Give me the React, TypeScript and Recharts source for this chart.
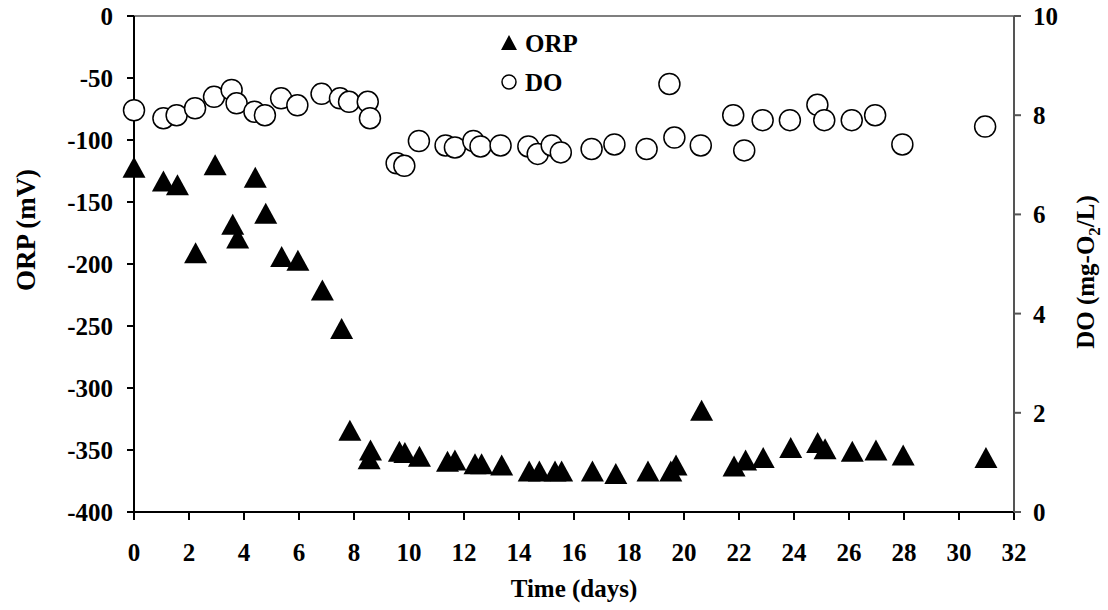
import { ScatterChart, Scatter, XAxis, YAxis, ReferenceLine } from 'recharts';

const FONT = '"Liberation Serif", "Times New Roman", serif';

const xTicks = [0, 2, 4, 6, 8, 10, 12, 14, 16, 18, 20, 22, 24, 26, 28, 30, 32];
const orpTicks = [0, -50, -100, -150, -200, -250, -300, -350, -400];
const doTicks = [0, 2, 4, 6, 8, 10];

const orpDays = [0, 1.07, 1.58, 2.24, 2.95, 3.59, 3.77, 4.41, 4.79, 5.37, 5.96, 6.85, 7.55, 7.85, 8.6, 8.55, 9.65, 9.85, 10.38, 11.4, 11.67, 12.4, 12.64, 13.37, 14.37, 14.74, 15.31, 15.55, 16.67, 17.52, 18.69, 19.52, 19.71, 20.64, 21.82, 22.24, 22.88, 23.88, 24.86, 25.13, 26.12, 26.98, 27.97, 30.98];
const orpValues = [-122, -133, -136, -191, -120, -168, -179, -130, -159, -194, -197, -221, -252, -334, -350, -357, -351, -352, -355, -359, -358, -361, -361, -362, -367, -367, -367, -367, -367, -369, -367, -367, -362, -318, -363, -358, -356, -348, -344, -349, -351, -350, -354, -356];

const doDays = [0, 1.07, 1.55, 2.22, 2.91, 3.55, 3.73, 4.38, 4.76, 5.35, 5.94, 6.82, 7.49, 7.82, 8.5, 8.58, 9.55, 9.83, 10.36, 11.33, 11.67, 12.34, 12.6, 13.33, 14.34, 14.68, 15.19, 15.52, 16.64, 17.47, 18.64, 19.47, 19.65, 20.61, 21.79, 22.19, 22.86, 23.85, 24.85, 25.1, 26.1, 26.95, 27.94, 30.95];
const doValues = [8.1, 7.94, 8.0, 8.14, 8.37, 8.51, 8.24, 8.07, 8.0, 8.34, 8.2, 8.43, 8.34, 8.27, 8.27, 7.94, 7.03, 6.98, 7.48, 7.39, 7.35, 7.48, 7.37, 7.39, 7.37, 7.22, 7.39, 7.25, 7.32, 7.41, 7.32, 8.63, 7.55, 7.39, 8.0, 7.29, 7.9, 7.9, 8.21, 7.9, 7.9, 8.0, 7.41, 7.77];

const orpData = orpDays.map((d, i) => ({ day: d, orp: orpValues[i] }));
const doData = doDays.map((d, i) => ({ day: d, dov: doValues[i] }));

const bold = { fontFamily: FONT, fontWeight: 700 };

// tick renderer: bold serif text; anchor/offset per axis
const tickText = (anchor: 'start' | 'middle' | 'end', dy: number) => (props: any) => (
  <g key={props.index}>
    <text x={props.x} y={props.y + dy} textAnchor={anchor} fontSize={25} fill="#000" style={bold}>
      {String(props.payload.value)}
    </text>
  </g>
);

const Triangle = (p: any) => (
  <polygon points={`${p.cx},${p.cy - 10.5} ${p.cx + 11.5},${p.cy + 10.5} ${p.cx - 11.5},${p.cy + 10.5}`} fill="#000" />
);

const Circle = (p: any) => <circle cx={p.cx} cy={p.cy} r={10.5} fill="#fff" stroke="#000" strokeWidth={1.5} />;

export default function App() {
  return (
    <div style={{ position: 'absolute', left: 0, top: 0, width: 1108, height: 610, background: '#fff' }}>
      <ScatterChart width={1108} height={610} margin={{ top: 16, right: 0, bottom: 0, left: 0 }}>
        <XAxis
          type="number"
          dataKey="day"
          domain={[0, 32]}
          ticks={xTicks}
          interval={0}
          height={98}
          stroke="#000"
          strokeWidth={2}
          tickSize={8}
          tickMargin={23}
          tick={tickText('middle', 18)}
          label={{
            content: () => (
              <text x={574} y={597} textAnchor="middle" fontSize={25} style={bold}>Time (days)</text>
            ),
          }}
        />
        <YAxis
          yAxisId="left"
          type="number"
          domain={[-400, 0]}
          ticks={orpTicks}
          interval={0}
          width={134}
          stroke="#000"
          strokeWidth={2}
          tickSize={7}
          tickMargin={14}
          tick={tickText('end', 9)}
          label={{
            content: () => (
              <text x={0} y={0} transform="translate(35,230) rotate(-90)" textAnchor="middle" fontSize={27} style={bold}>ORP (mV)</text>
            ),
          }}
        />
        <YAxis
          yAxisId="right"
          orientation="right"
          type="number"
          domain={[0, 10]}
          ticks={doTicks}
          interval={0}
          width={94}
          stroke="#555"
          strokeWidth={2}
          tickSize={7}
          tickMargin={12}
          tick={tickText('start', 9)}
          label={{
            content: () => (
              <text x={0} y={0} transform="translate(1094,272) rotate(-90)" textAnchor="middle" fontSize={25} style={bold}>
                <tspan>DO (mg-O</tspan>
                <tspan fontSize={17} dy={6}>2</tspan>
                <tspan dy={-6}>/L)</tspan>
              </text>
            ),
          }}
        />
        <ReferenceLine yAxisId="left" y={0} stroke="#555" strokeWidth={1.5} />
        <Scatter name="ORP" yAxisId="left" data={orpData} dataKey="orp" shape={Triangle} isAnimationActive={false} />
        <Scatter name="DO" yAxisId="right" data={doData} dataKey="dov" shape={Circle} isAnimationActive={false} />
      </ScatterChart>
      <svg width={110} height={85} style={{ position: 'absolute', left: 495, top: 20, ...bold }}>
        <polygon points="14,15 22,30 6,30" fill="#000" />
        <text x={30} y={32} fontSize={25}>ORP</text>
        <circle cx={14} cy={62} r={7} fill="#fff" stroke="#000" strokeWidth={1.5} />
        <text x={30} y={71} fontSize={25}>DO</text>
      </svg>
    </div>
  );
}
